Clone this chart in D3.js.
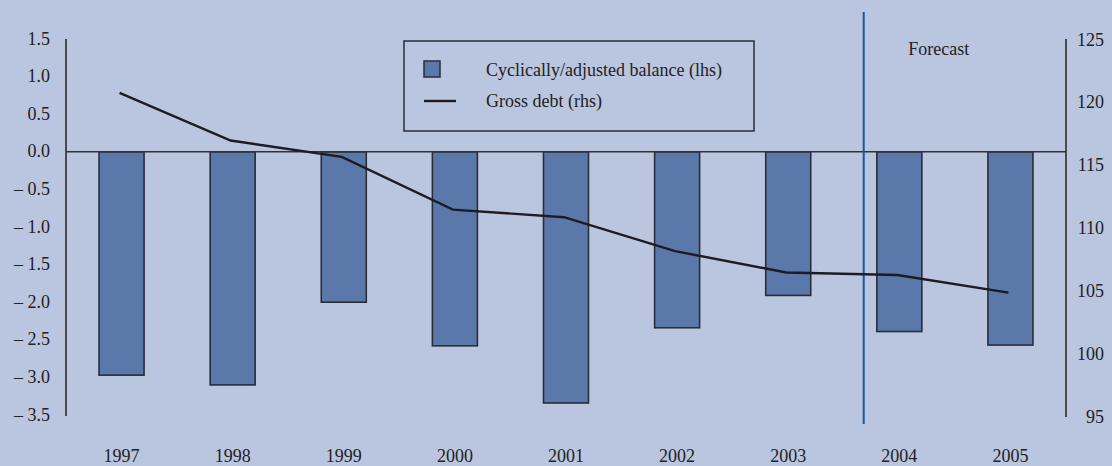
<!DOCTYPE html>
<html>
<head>
<meta charset="utf-8">
<script src="https://cdn.jsdelivr.net/npm/d3@7/dist/d3.min.js"></script>
<style>
  html, body { margin: 0; padding: 0; background: #bac5df; }
  svg { display: block; }
  text { font-family: "Liberation Serif", "Times New Roman", serif; fill: #222; }
</style>
</head>
<body>
<svg id="chart" width="1112" height="466"></svg>
<script>
// Fiscal position: cyclically adjusted balance (% of GDP, lhs) and gross debt (% of GDP, rhs)
const years = ["1997", "1998", "1999", "2000", "2001", "2002", "2003", "2004", "2005"];
const balance = [-2.97, -3.10, -2.00, -2.58, -3.34, -2.34, -1.91, -2.39, -2.57];
const grossDebt = [120.8, 117.0, 115.7, 111.5, 110.9, 108.2, 106.5, 106.3, 104.9];
const leftTicks = [1.5, 1.0, 0.5, 0.0, -0.5, -1.0, -1.5, -2.0, -2.5, -3.0, -3.5];
const rightTicks = [125, 120, 115, 110, 105, 100, 95];
const forecastFrom = "2004";
const legendLabels = ["Cyclically/adjusted balance (lhs)", "Gross debt (rhs)"];

const FS = 18;
const svg = d3.select("#chart");
const plot = { left: 66, right: 1066, top: 39, bottom: 416 };

const x = d3.scaleBand().domain(years).range([plot.left, plot.right])
  .paddingInner(0.595).paddingOuter(0.2975);
const yL = d3.scaleLinear().domain([-3.5, 1.5]).range([415, 39]);
const yR = d3.scaleLinear().domain([95, 125]).range([417, 40]);

const fmtL = v => (v < 0 ? "\u2013 " : "") + Math.abs(v).toFixed(1);

// left axis
const axL = d3.axisLeft(yL).tickValues(leftTicks).tickSize(0).tickPadding(16).tickFormat(fmtL);
const gL = svg.append("g").attr("transform", `translate(${plot.left},0)`).call(axL);
gL.select(".domain").attr("stroke", "#222").attr("stroke-width", 1.5)
  .attr("d", `M0,${plot.top}V${plot.bottom}`);
gL.selectAll("text").attr("font-size", FS).attr("dy", "0.28em").attr("fill", "#222");

// right axis
const axR = d3.axisRight(yR).tickValues(rightTicks).tickSize(0).tickPadding(38).tickFormat(d3.format("d"));
const gR = svg.append("g").attr("transform", `translate(${plot.right},0)`).call(axR);
gR.select(".domain").attr("stroke", "#222").attr("stroke-width", 1.5)
  .attr("d", `M0,${plot.top}V${plot.bottom + 1}`);
gR.selectAll("text").attr("font-size", FS).attr("dy", "0.28em")
  .attr("fill", "#222").attr("text-anchor", "end");

// year labels
const axB = d3.axisBottom(x).tickSize(0).tickPadding(0);
const gB = svg.append("g").attr("transform", `translate(0,449)`).call(axB);
gB.select(".domain").remove();
gB.selectAll("text").attr("font-size", FS).attr("fill", "#222");

// bars
svg.append("g").selectAll("rect").data(years).join("rect")
  .attr("x", d => x(d))
  .attr("width", x.bandwidth())
  .attr("y", (d, i) => Math.min(yL(0), yL(balance[i])))
  .attr("height", (d, i) => Math.abs(yL(balance[i]) - yL(0)))
  .attr("fill", "#5a78aa")
  .attr("stroke", "#2a2c38")
  .attr("stroke-width", 1.6);

// zero line
svg.append("line")
  .attr("x1", plot.left).attr("x2", plot.right)
  .attr("y1", yL(0)).attr("y2", yL(0))
  .attr("stroke", "#333").attr("stroke-width", 1.5);

// forecast divider
const fx = x(forecastFrom) - x.step() * 0.118;
svg.append("line")
  .attr("x1", fx).attr("x2", fx).attr("y1", 12).attr("y2", 424)
  .attr("stroke", "#1d5596").attr("stroke-width", 2);
svg.append("text").attr("x", x(forecastFrom) + x.bandwidth() * 0.7).attr("y", 55)
  .attr("font-size", FS).text("Forecast");

// gross debt line
const line = d3.line()
  .x((d, i) => x(years[i]) + x.bandwidth() / 2 - 2)
  .y(d => yR(d));
svg.append("path").datum(grossDebt)
  .attr("d", line)
  .attr("fill", "none")
  .attr("stroke", "#1c1c22")
  .attr("stroke-width", 2.4);

// legend
const lg = svg.append("g").attr("transform", "translate(404,41)");
lg.append("rect").attr("width", 350).attr("height", 90)
  .attr("fill", "none").attr("stroke", "#2a2c38").attr("stroke-width", 1.5);
lg.append("rect").attr("x", 20).attr("y", 20).attr("width", 16).attr("height", 16)
  .attr("fill", "#5a78aa").attr("stroke", "#2a2c38").attr("stroke-width", 1.5);
lg.append("line").attr("x1", 20).attr("x2", 52).attr("y1", 60).attr("y2", 60)
  .attr("stroke", "#1c1c22").attr("stroke-width", 2.4);
lg.append("text").attr("x", 82).attr("y", 35).attr("font-size", FS).text(legendLabels[0]);
lg.append("text").attr("x", 82).attr("y", 66).attr("font-size", FS).text(legendLabels[1]);
</script>
</body>
</html>
